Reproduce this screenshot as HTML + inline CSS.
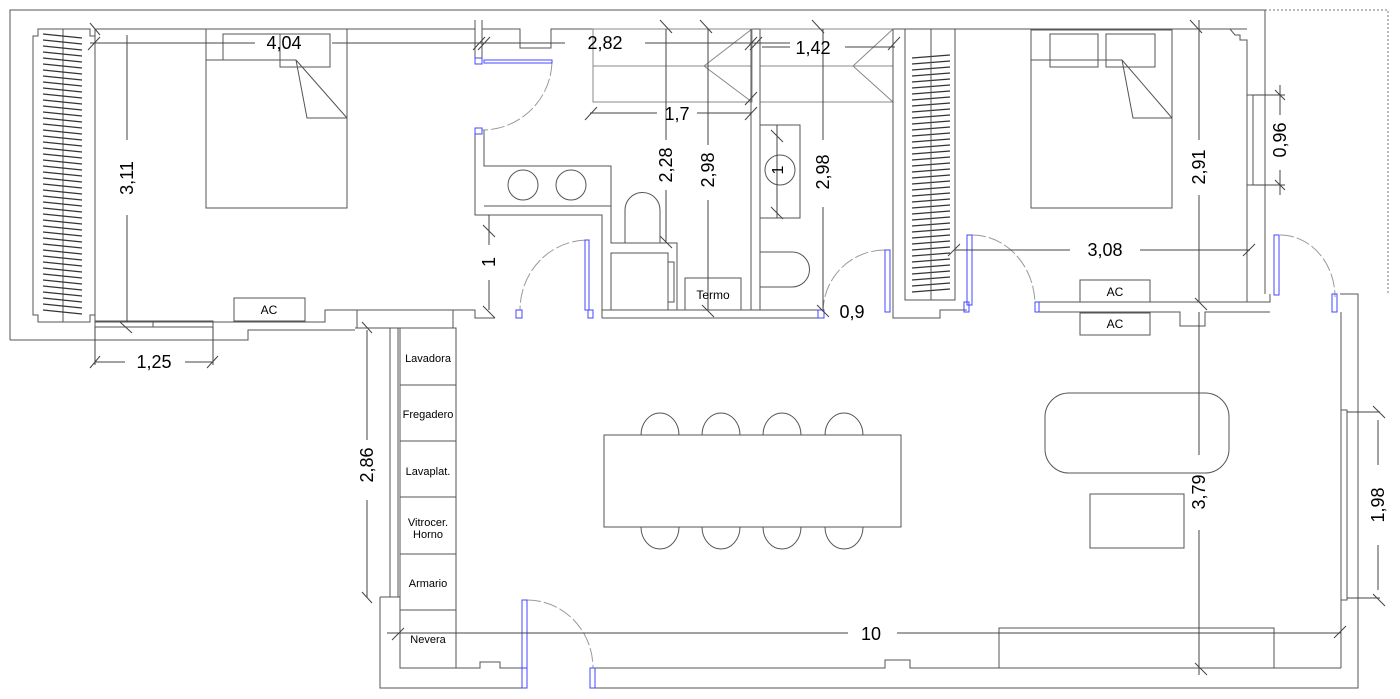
<!DOCTYPE html>
<html><head><meta charset="utf-8"><style>
html,body{margin:0;padding:0;background:#fff;}
svg{display:block;}
text{font-family:"Liberation Sans",sans-serif;fill:#000;}
</style></head><body>
<svg width="1400" height="699" viewBox="0 0 1400 699" xmlns="http://www.w3.org/2000/svg">
<g fill="none" stroke="#555" stroke-width="1">
<!-- outer walls -->
<polyline points="10,340 10,10 1265,10"/>
<polyline points="1265,10 1388,10 1388,294" stroke-dasharray="2,2" stroke="#777"/>
<line x1="1265" y1="10" x2="1265" y2="294"/>
<polyline points="10,340 248,340 248,330 355,330"/>
<polyline points="380,597 380,688 522,688"/>
<polyline points="593,688 1358,688 1358,294 1340,294"/>
<!-- left bedroom inner -->
<polyline points="95,322 95,29 475,29"/>
<polyline points="95,322 325,322 325,310 355,310"/>
<polyline points="455,310 475,310 475,318 495,318"/>
<line x1="355" y1="310" x2="455" y2="310"/>
<line x1="355" y1="328" x2="455" y2="328"/>
<line x1="357" y1="310" x2="357" y2="328"/>
<line x1="453" y1="310" x2="453" y2="328"/>
<!-- wardrobe left -->
<polygon points="33,36 38,36 38,29 90,29 90,36 95,36 95,315 90,315 90,322 38,322 38,315 33,315"/>
<line x1="63" y1="29" x2="63" y2="322"/>
</g>
<g stroke="#333" stroke-width="1.2">
<!-- hatch left wardrobe -->
<path d="M43,34L82,38M43,40L82,44M43,46L82,50M43,52L82,56M43,58L82,62M43,64L82,68M43,70L82,74M43,76L82,80M43,82L82,86M43,88L82,92M43,94L82,98M43,100L82,104M43,106L82,110M43,112L82,116M43,118L82,122M43,124L82,128M43,130L82,134M43,136L82,140M43,142L82,146M43,148L82,152M43,154L82,158M43,160L82,164M43,166L82,170M43,172L82,176M43,178L82,182M43,184L82,188M43,190L82,194M43,196L82,200M43,202L82,206M43,208L82,212M43,214L82,218M43,220L82,224M43,226L82,230M43,232L82,236M43,238L82,242M43,244L82,248M43,250L82,254M43,256L82,260M43,262L82,266M43,268L82,272M43,274L82,278M43,280L82,284M43,286L82,290M43,292L82,296M43,298L82,302M43,304L82,308M43,310L82,314"/>
<!-- hatch right wardrobe -->
<path d="M912,58L950,55M912,64L950,61M912,70L950,67M912,76L950,73M912,82L950,79M912,88L950,85M912,94L950,91M912,100L950,97M912,106L950,103M912,112L950,109M912,118L950,115M912,124L950,121M912,130L950,127M912,136L950,133M912,142L950,139M912,148L950,145M912,154L950,151M912,160L950,157M912,166L950,163M912,172L950,169M912,178L950,175M912,184L950,181M912,190L950,187M912,196L950,193M912,202L950,199M912,208L950,205M912,214L950,211M912,220L950,217M912,226L950,223M912,232L950,229M912,238L950,235M912,244L950,241M912,250L950,247M912,256L950,253M912,262L950,259M912,268L950,265M912,274L950,271M912,280L950,277M912,286L950,283M912,292L950,289"/>
</g>
<g fill="none" stroke="#555" stroke-width="1">
<!-- left bed -->
<rect x="206" y="29" width="141" height="179"/>
<rect x="223" y="34" width="57" height="26"/>
<rect x="280" y="34" width="50" height="33"/>
<line x1="206" y1="60" x2="296" y2="60"/>
<polyline points="296,60 307,118 347,118"/>
<line x1="296" y1="60" x2="347" y2="118"/>
<rect x="234" y="298" width="71" height="23"/>
<!-- left window -->
<rect x="95" y="321" width="118" height="6"/>
<line x1="153" y1="321" x2="153" y2="327"/>
<!-- top middle walls -->
<polyline points="482,29 520,29 520,48 551,48 551,29 1247,29"/>
<line x1="482" y1="20" x2="482" y2="62"/>
<line x1="475" y1="20" x2="475" y2="62"/>
<!-- corridor boxes -->
<rect x="593" y="29" width="159" height="73" stroke="#888"/>
<line x1="593" y1="66" x2="752" y2="66" stroke="#888"/>
<polyline points="752,29 704,66 752,102" stroke="#888"/>
<rect x="760" y="29" width="133" height="73" stroke="#888"/>
<line x1="760" y1="66" x2="893" y2="66" stroke="#888"/>
<polyline points="893,29 853,66 893,102" stroke="#888"/>
<line x1="751" y1="29" x2="751" y2="310"/>
<line x1="760" y1="29" x2="760" y2="310"/>
<!-- left bath -->
<polyline points="475,130 475,215 602,215 602,318"/>
<polyline points="484,130 484,166 611,166 611,243 677,243 677,310"/>
<line x1="484" y1="206" x2="611" y2="206"/>
<circle cx="523" cy="185" r="15"/>
<circle cx="571" cy="185" r="15"/>
<path d="M625,243 L625,210 A17.5,17.5 0 0 1 660,210 L660,243"/>
<rect x="611" y="253" width="57" height="57"/>
<rect x="668" y="262" width="6" height="40"/>
<rect x="685" y="278" width="56" height="32"/>
<polyline points="602,318 820,318"/>
<line x1="602" y1="310" x2="820" y2="310"/>
<!-- right bath -->
<rect x="760" y="125" width="40" height="93"/>
<circle cx="780" cy="170" r="15"/>
<path d="M760,252 L792,252 A17.5,17.5 0 0 1 792,287 L760,287"/>
<!-- right bedroom -->
<polyline points="893,29 893,318 940,318 940,310 967,310"/>
<line x1="905" y1="29" x2="905" y2="300"/>
<polygon points="905,300 955,300 955,29 905,29"/>
<line x1="931" y1="29" x2="931" y2="300"/>
<polyline points="1060,29 1230,29 1235,35 1240,35 1240,40 1247,40 1247,302 1270,302 1270,294"/>
<polyline points="1035,302 1247,302"/>
<polyline points="1035,312 1180,312 1180,326 1205,326 1205,312 1270,312"/>
<rect x="1031" y="30" width="141" height="178"/>
<rect x="1050" y="34" width="48" height="33"/>
<rect x="1106" y="34" width="49" height="33"/>
<line x1="1031" y1="60" x2="1122" y2="60"/>
<polyline points="1122,60 1133,118 1172,118"/>
<line x1="1122" y1="60" x2="1172" y2="118"/>
<rect x="1080" y="280" width="70" height="22"/>
<rect x="1080" y="313" width="70" height="22"/>
<rect x="1247" y="95" width="6" height="90"/>
<!-- living -->
<line x1="1341" y1="312" x2="1341" y2="668"/>
<rect x="1341" y="410" width="6" height="190"/>
<polyline points="400,668 480,668 480,662 500,662 500,668 522,668"/>
<polyline points="593,668 885,668 885,660 910,660 910,668 1341,668"/>
<polyline points="380,597 400,597"/>
<line x1="390" y1="328" x2="390" y2="597"/>
<line x1="398" y1="328" x2="398" y2="597"/>
<rect x="400" y="328" width="56" height="340"/>
<line x1="400" y1="385" x2="456" y2="385"/>
<line x1="400" y1="441" x2="456" y2="441"/>
<line x1="400" y1="497" x2="456" y2="497"/>
<line x1="400" y1="554" x2="456" y2="554"/>
<line x1="400" y1="610" x2="456" y2="610"/>
<rect x="604" y="435" width="297" height="92"/>
<path d="M641,435 A19,22 0 0 1 679,435"/><path d="M702,435 A19,22 0 0 1 740,435"/>
<path d="M763,435 A19,22 0 0 1 801,435"/><path d="M825,435 A19,22 0 0 1 863,435"/>
<path d="M641,527 A19,22 0 0 0 679,527"/><path d="M702,527 A19,22 0 0 0 740,527"/>
<path d="M763,527 A19,22 0 0 0 801,527"/><path d="M825,527 A19,22 0 0 0 863,527"/>
<rect x="1045" y="393" width="184" height="80" rx="24"/>
<rect x="1090" y="494" width="94" height="54"/>
<rect x="999" y="628" width="275" height="40"/>
</g>
<!-- door arcs -->
<g fill="none" stroke="#999" stroke-width="1" stroke-dasharray="14,3">
<path d="M552,62 A70,70 0 0 1 482,130"/>
<path d="M586,240 A68,70 0 0 0 520,310"/>
<path d="M885,250 A62,62 0 0 0 823,312"/>
<path d="M972,235 A63,70 0 0 1 1035,305"/>
<path d="M1280,235 A55,62 0 0 1 1335,297"/>
<path d="M527,600 A66,68 0 0 1 593,668"/>
</g>
<!-- blue door leaves -->
<g fill="none" stroke="#44f" stroke-width="1">
<rect x="484" y="60" width="68" height="3"/>
<rect x="475" y="58" width="7" height="6"/>
<rect x="475" y="128" width="7" height="6"/>
<rect x="585" y="240" width="4" height="70"/>
<rect x="516" y="310" width="6" height="8"/>
<rect x="588" y="310" width="5" height="8"/>
<rect x="885" y="250" width="5" height="62"/>
<rect x="818" y="310" width="6" height="8"/>
<rect x="967" y="235" width="5" height="70"/>
<rect x="964" y="302" width="5" height="10"/>
<rect x="1035" y="302" width="4" height="10"/>
<rect x="1274" y="235" width="5" height="60"/>
<rect x="1332" y="294" width="5" height="18"/>
<rect x="522" y="600" width="5" height="68"/>
<rect x="522" y="668" width="5" height="20"/>
<rect x="590" y="668" width="5" height="20"/>
</g>
<!-- dimension lines -->
<g stroke="#444" stroke-width="1" fill="none">
<line x1="90" y1="43" x2="255" y2="43"/><line x1="332" y1="43" x2="480" y2="43"/>
<line x1="480" y1="43" x2="565" y2="43"/><line x1="645" y1="43" x2="790" y2="43"/>
<line x1="762" y1="47" x2="790" y2="47"/><line x1="845" y1="47" x2="895" y2="47"/>
<line x1="127" y1="35" x2="127" y2="140"/><line x1="127" y1="215" x2="127" y2="322"/>
<line x1="95" y1="327" x2="95" y2="365"/><line x1="213" y1="327" x2="213" y2="365"/>
<line x1="95" y1="362" x2="125" y2="362"/><line x1="185" y1="362" x2="213" y2="362"/>
<line x1="590" y1="113" x2="657" y2="113"/><line x1="697" y1="113" x2="752" y2="113"/>
<line x1="666" y1="29" x2="666" y2="140"/><line x1="666" y1="190" x2="666" y2="243"/>
<line x1="708" y1="29" x2="708" y2="145"/><line x1="708" y1="200" x2="708" y2="310"/>
<line x1="823" y1="29" x2="823" y2="140"/><line x1="823" y1="207" x2="823" y2="310"/>
<line x1="777" y1="125" x2="777" y2="218"/>
<line x1="489" y1="215" x2="489" y2="245"/><line x1="489" y1="280" x2="489" y2="310"/>
<line x1="955" y1="250" x2="1070" y2="250"/><line x1="1140" y1="250" x2="1250" y2="250"/>
<line x1="1199" y1="20" x2="1199" y2="140"/><line x1="1199" y1="195" x2="1199" y2="302"/>
<line x1="1253" y1="95" x2="1285" y2="95"/><line x1="1253" y1="185" x2="1285" y2="185"/>
<line x1="1280" y1="85" x2="1280" y2="115"/><line x1="1280" y1="170" x2="1280" y2="195"/>
<line x1="1199" y1="312" x2="1199" y2="455"/><line x1="1199" y1="530" x2="1199" y2="675"/>
<line x1="1347" y1="412" x2="1380" y2="412"/><line x1="1347" y1="598" x2="1380" y2="598"/>
<line x1="1378" y1="420" x2="1378" y2="465"/><line x1="1378" y1="545" x2="1378" y2="590"/>
<line x1="387" y1="633" x2="848" y2="633"/><line x1="897" y1="633" x2="1341" y2="633"/>
<line x1="367" y1="330" x2="367" y2="440"/><line x1="367" y1="500" x2="367" y2="597"/>
<!-- ticks -->
<path d="M88,50L100,37M90,23L100,35M473,50L485,37M478,50L490,37M660,20L672,33M700,20L712,33M745,50L757,37M750,50L762,37M812,20L824,33M888,50L900,37M1190,20L1202,33M585,120L597,107M745,120L757,107M745,105L757,92M120,322L132,333M90,368L100,356M207,368L218,356M483,225L495,237M483,306L495,318M771,130L783,142M771,207L783,219M660,236L672,248M702,305L714,317M817,305L829,317M948,256L960,244M1243,256L1255,244M1275,90L1285,100M1275,180L1285,190M1195,298L1207,310M1195,663L1207,675M1373,406L1385,418M1373,594L1385,606M1334,638L1346,626M392,640L404,628M362,322L372,333M362,592L372,603"/>
</g>
<!-- dimension texts -->
<g font-size="18" text-anchor="middle">
<text x="284" y="49">4,04</text>
<text x="605" y="49">2,82</text>
<text x="813" y="54">1,42</text>
<text x="677" y="120">1,7</text>
<text x="154" y="368">1,25</text>
<text x="852" y="318">0,9</text>
<text x="1105" y="256">3,08</text>
<text x="871" y="640">10</text>
<text transform="translate(133,178) rotate(-90)">3,11</text>
<text transform="translate(672,165) rotate(-90)">2,28</text>
<text transform="translate(714,170) rotate(-90)">2,98</text>
<text transform="translate(829,172) rotate(-90)">2,98</text>
<text transform="translate(1205,167) rotate(-90)">2,91</text>
<text transform="translate(1286,140) rotate(-90)">0,96</text>
<text transform="translate(1205,492) rotate(-90)">3,79</text>
<text transform="translate(1384,505) rotate(-90)">1,98</text>
<text transform="translate(373,465) rotate(-90)">2,86</text>
<text transform="translate(495,262) rotate(-90)">1</text>
<text transform="translate(783,170) rotate(-90)" font-size="16">1</text>
</g>
<g font-size="12" text-anchor="middle">
<text x="269" y="314">AC</text>
<text x="1115" y="296">AC</text>
<text x="1115" y="328">AC</text>
<text x="713" y="299">Termo</text>
<text x="428" y="362" font-size="11">Lavadora</text>
<text x="428" y="418" font-size="11">Fregadero</text>
<text x="428" y="475" font-size="11">Lavaplat.</text>
<text x="428" y="526" font-size="11">Vitrocer.</text>
<text x="428" y="538" font-size="11">Horno</text>
<text x="428" y="587" font-size="11">Armario</text>
<text x="428" y="643" font-size="11">Nevera</text>
</g>
</svg>
</body></html>
